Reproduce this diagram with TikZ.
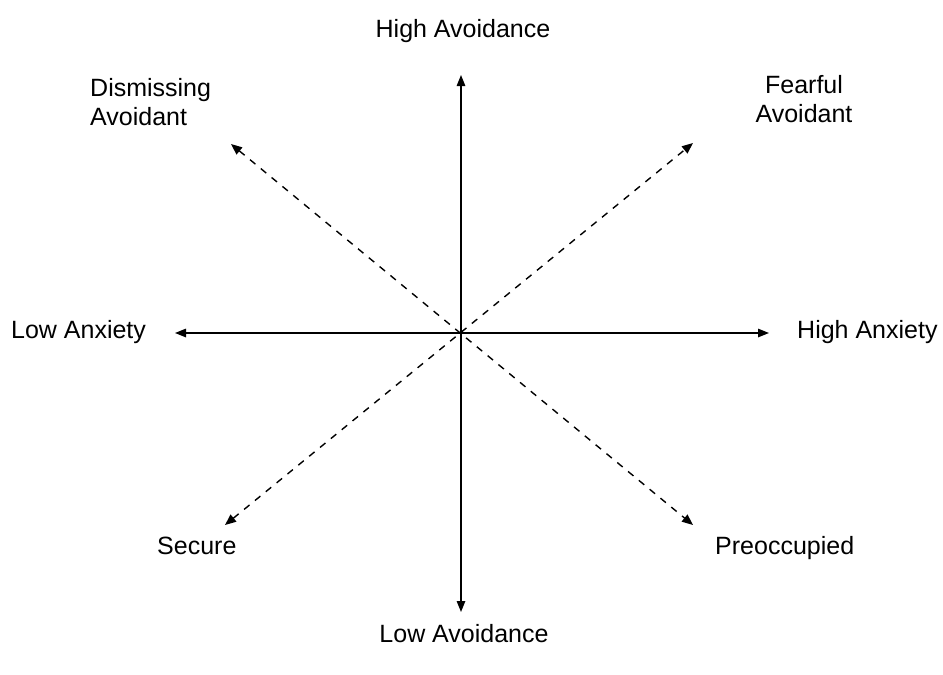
\documentclass[tikz,border=0pt]{standalone}
\usepackage{fontspec}
\setmainfont{Liberation Sans}
\usetikzlibrary{arrows.meta}
\begin{document}
\begin{tikzpicture}[x=1pt,y=-1pt,
  lbl/.style={inner sep=0pt, font=\fontsize{25}{29}\selectfont},
  axis/.style={line width=1.4pt, {Triangle[length=11pt,width=8.5pt]}-{Triangle[length=11pt,width=8.5pt]}},
  diag/.style={line width=1.4pt, dash pattern=on 7pt off 7pt, {Triangle[length=11pt,width=9pt]}-{Triangle[length=11pt,width=9pt]}}]
\useasboundingbox (0,0) rectangle (943,675);
% arrow ends
\coordinate (vt) at (461,75);
\coordinate (vb) at (461,612);
\coordinate (hl) at (175,333);
\coordinate (hr) at (769,333);
\coordinate (tl) at (231,144);
\coordinate (br) at (693,525);
\coordinate (tr) at (693,143);
\coordinate (bl) at (225,525);
% labels
\node[lbl, anchor=base] (ha) at (463,37) {High Avoidance};
\node[lbl, anchor=base] (la) at (464,642) {Low Avoidance};
\node[lbl, anchor=base west] (lx) at (11,338) {Low Anxiety};
\node[lbl, anchor=base west] (hx) at (797,338) {High Anxiety};
\node[lbl, anchor=north west, align=left] (dis) at (90,78) {Dismissing\\Avoidant};
\node[lbl, anchor=north, align=center] (fea) at (804,75) {Fearful\\Avoidant};
\node[lbl, anchor=base west] (sec) at (157,554) {Secure};
\node[lbl, anchor=base west] (pre) at (715,554) {Preoccupied};
% arrows
\draw[axis] (vb) -- (vt);
\draw[axis] (hl) -- (hr);
\draw[diag] (tl) -- (br);
\draw[diag] (bl) -- (tr);
\end{tikzpicture}
\end{document}
